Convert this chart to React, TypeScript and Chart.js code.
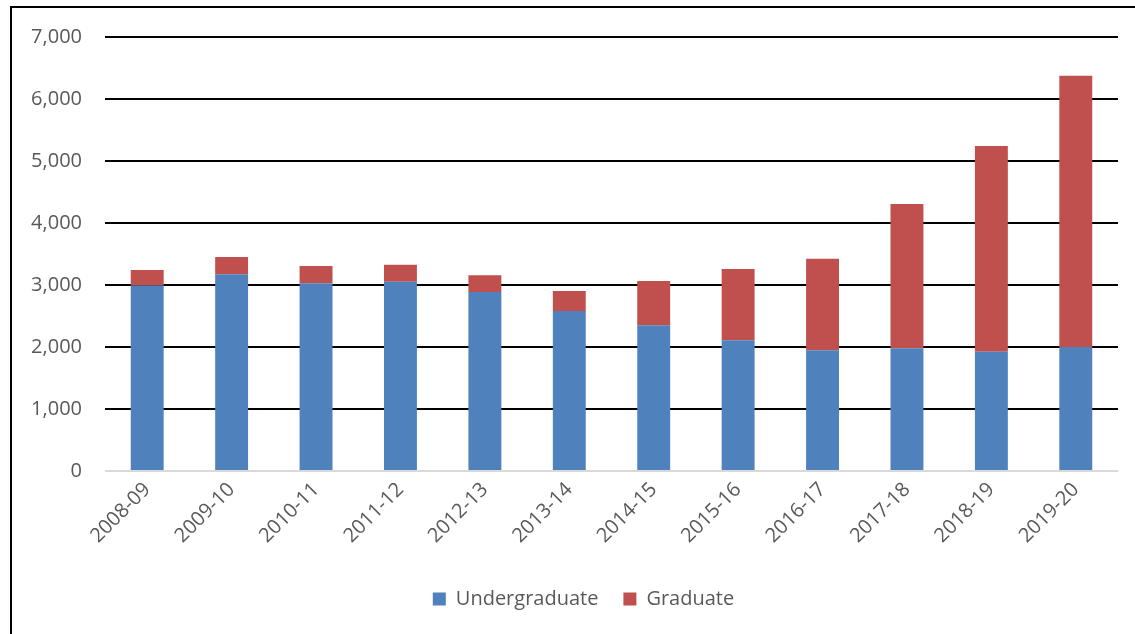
import React, { useEffect, useRef } from "react";
import { Chart, registerables } from "chart.js";

Chart.register(...registerables);

const categories = [
  "2008-09", "2009-10", "2010-11", "2011-12", "2012-13", "2013-14",
  "2014-15", "2015-16", "2016-17", "2017-18", "2018-19", "2019-20",
];
const undergraduate = [2990, 3173, 3027, 3054, 2887, 2581, 2349, 2108, 1946, 1978, 1925, 2000];
const graduate = [252, 279, 279, 274, 269, 322, 715, 1150, 1478, 2328, 3317, 4376];
const yTicks = [0, 1000, 2000, 3000, 4000, 5000, 6000, 7000];

const FONT = "'Open Sans', sans-serif";
const TEXT = "#595959";

const shiftLegend = {
  id: "shiftLegend",
  afterLayout(chart: any) {
    if (chart.legend) chart.legend.left = 49;
  },
};

export default function App() {
  const ref = useRef<HTMLCanvasElement | null>(null);

  useEffect(() => {
    document.body.style.margin = "0";
    const chart = new Chart(ref.current as HTMLCanvasElement, {
      type: "bar",
      data: {
        labels: categories,
        datasets: [
          { label: "Undergraduate", data: undergraduate, backgroundColor: "#4F81BD" },
          { label: "Graduate", data: graduate, backgroundColor: "#C0504D" },
        ],
      },
      plugins: [shiftLegend],
      options: {
        animation: false,
        responsive: false,
        maintainAspectRatio: false,
        layout: { padding: { top: 37, right: 17, left: 0, bottom: 15 } },
        datasets: { bar: { categoryPercentage: 1, barPercentage: 0.39 } },
        plugins: {
          tooltip: { enabled: false },
          legend: {
            position: "bottom",
            labels: {
              boxWidth: 13,
              boxHeight: 13,
              padding: 25,
              color: TEXT,
              font: { family: FONT, size: 20 },
            },
          },
        },
        scales: {
          x: {
            stacked: true,
            grid: { display: false, drawTicks: false },
            border: { display: false },
            ticks: {
              color: TEXT,
              font: { family: FONT, size: 20 },
              maxRotation: 45,
              minRotation: 45,
              padding: 7,
            },
            afterFit: (s: any) => { s.height = 93; },
          },
          y: {
            stacked: true,
            min: 0,
            max: 7000,
            afterBuildTicks: (s: any) => { s.ticks = yTicks.map((v) => ({ value: v })); },
            grid: {
              drawTicks: false,
              lineWidth: 2,
              color: (ctx: any) => (ctx.tick && ctx.tick.value === 0 ? "#d9d9d9" : "#000000"),
            },
            border: { display: false },
            ticks: {
              color: TEXT,
              font: { family: FONT, size: 20 },
              padding: 23,
              callback: (v: any) => Number(v).toLocaleString("en-US"),
            },
            afterFit: (s: any) => { s.width = 105; },
          },
        },
      },
    });
    return () => chart.destroy();
  }, []);

  return (
    <div style={{ position: "relative", width: 1135, height: 634, overflow: "hidden", background: "#fff" }}>
      <div
        style={{
          position: "absolute",
          left: 10,
          top: 6,
          width: 1200,
          height: 700,
          borderLeft: "2px solid #000",
          borderTop: "2px solid #000",
        }}
      />
      <canvas ref={ref} width={1135} height={634} style={{ position: "absolute", left: 0, top: 0 }} />
    </div>
  );
}
